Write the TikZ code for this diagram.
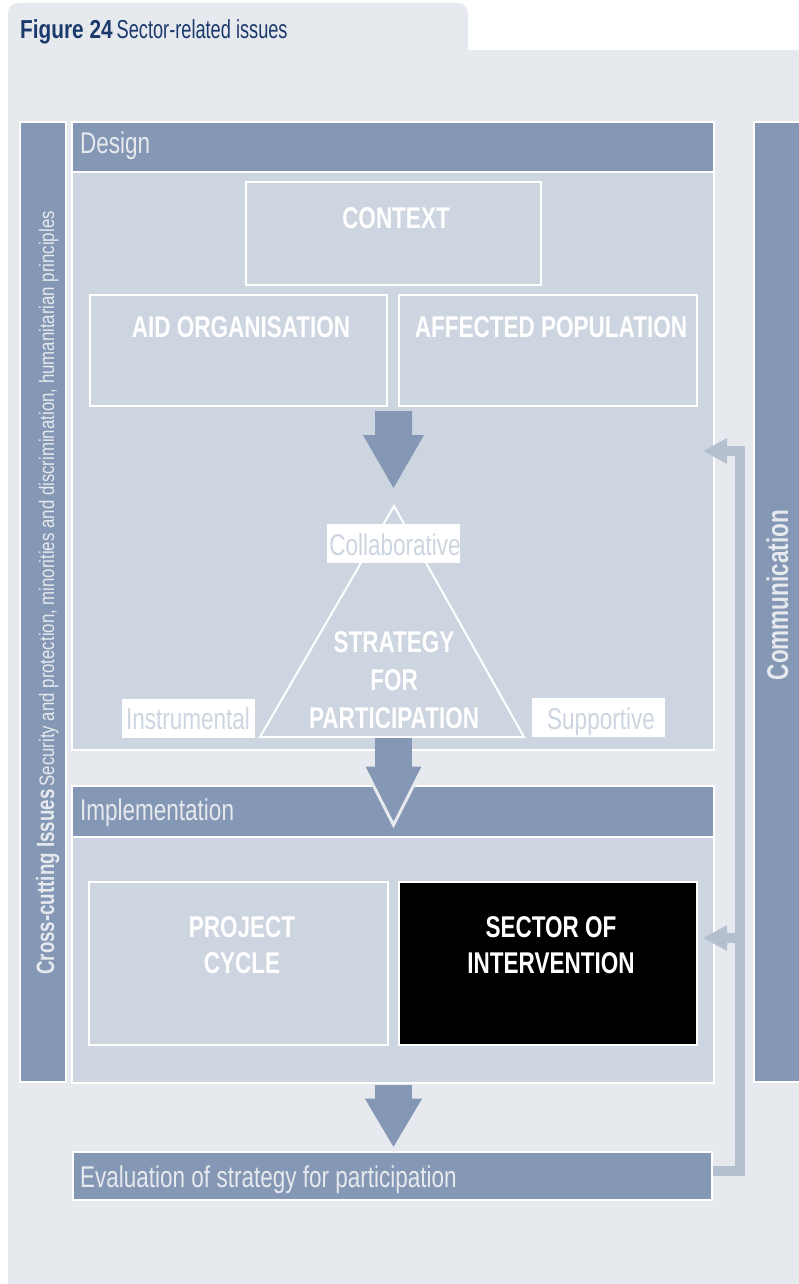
\documentclass[tikz,border=0pt]{standalone}
\usepackage{fontspec}
\setmainfont{Liberation Sans}
\newfontfamily\cf[FakeStretch=0.75]{Liberation Sans}
\newfontfamily\tbf[FakeStretch=0.8]{Liberation Sans}
\newfontfamily\treg[FakeStretch=0.7]{Liberation Sans}
\newfontfamily\sidefont[FakeStretch=0.8]{Liberation Sans}
\usetikzlibrary{arrows.meta}
\definecolor{bg}{HTML}{E6E9EE}
\definecolor{bar}{HTML}{8497B4}
\definecolor{panel}{HTML}{CDD5E0}
\definecolor{fb}{HTML}{B4C0D0}
\definecolor{navy}{HTML}{1A3A6C}
\tikzset{
  lbl/.style={inner sep=0pt, font=\cf\fontsize{30}{32}\selectfont},
  boxlbl/.style={inner sep=0pt, anchor=base, text=white, font=\cf\bfseries\fontsize{30}{32}\selectfont},
  hdr/.style={lbl, text=bg, anchor=base west},
  tag/.style={fill=white, inner sep=0pt, minimum width=133pt, minimum height=39pt},
  taglbl/.style={lbl, anchor=base, text=panel},
  frame/.style={draw=white, line width=2.5pt, inner sep=0pt},
  panelbox/.style={fill=panel, draw=white, line width=1.5pt, inner sep=0pt},
  barbox/.style={fill=bar, draw=white, line width=1.5pt, inner sep=0pt},
  fbline/.style={draw=fb, line width=10pt},
  fbtip/.style={-{Triangle[length=24pt,width=24pt]}},
  blockarrow/.style={fill=bar},
}
\begin{document}
\begin{tikzpicture}[x=1pt,y=-1pt]
\useasboundingbox (0,0) rectangle (799,1284);
\fill[white] (0,0) rectangle (799,1284);
% background
\fill[bg, rounded corners=10pt] (8,3) rectangle (468,70);
\fill[bg] (8,50) rectangle (799,1284);
% title
\node[anchor=base west, inner sep=0pt, text=navy] (title) at (20,39)
  {{\tbf\bfseries\fontsize{26}{28}\selectfont Figure 24}\hspace{4pt}{\treg\fontsize{26}{28}\selectfont Sector-related issues}};
% side bars
\node[barbox, minimum width=46pt, minimum height=960pt] (cross) at (43,602) {};
\node[barbox, minimum width=48pt, minimum height=960pt] (comm) at (778,602) {};
\node[rotate=90, anchor=base west, inner sep=0pt, text=bg] (crosstxt) at (54,975)
  {{\cf\bfseries\fontsize{25}{27}\selectfont Cross-cutting Issues}\hspace{3pt}{\sidefont\fontsize{21}{22}\selectfont Security and protection, minorities and discrimination, humanitarian principles}};
\node[rotate=90, anchor=base, inner sep=0pt, text=bg, font=\cf\bfseries\fontsize{30}{32}\selectfont] (commtxt) at (788,595) {Communication};
% design panel
\node[panelbox, minimum width=642pt, minimum height=628pt] (design) at (393,436) {};
\node[barbox, minimum width=642pt, minimum height=50pt] (designhdr) at (393,147) {};
\node[hdr] (designtxt) at (80,154) {Design};
\node[frame, minimum width=295pt, minimum height=103pt] (context) at (393.5,233.5) {};
\node[frame, minimum width=297pt, minimum height=111pt] (aid) at (238.5,350.5) {};
\node[frame, minimum width=298pt, minimum height=111pt] (affected) at (548,350.5) {};
\node[boxlbl] (contexttxt) at (396,228) {CONTEXT};
\node[boxlbl] (aidtxt) at (241,337) {AID ORGANISATION};
\node[boxlbl] (affectedtxt) at (551,337) {AFFECTED POPULATION};
% arrow 1
\fill[blockarrow] (375,411) -- (412,411) -- (412,435) -- (424,435) -- (393.5,488) -- (363,435) -- (375,435) -- cycle;
% triangle
\coordinate (tA) at (394,506);
\coordinate (tB) at (260,737);
\coordinate (tC) at (524,737);
\draw[white, line width=2pt, line join=miter] (tA) -- (tB) -- (tC) -- cycle;
\node[tag] (collab) at (393.5,543.5) {};
\node[tag] (instr) at (188,718) {};
\node[tag] (supp) at (598,717.5) {};
\node[taglbl] (collabtxt) at (395,555) {Collaborative};
\node[taglbl] (instrtxt) at (188,729) {Instrumental};
\node[taglbl] (supptxt) at (601,729) {Supportive};
\node[boxlbl] (strat1) at (394,652) {STRATEGY};
\node[boxlbl] (strat2) at (394,690) {FOR};
\node[boxlbl] (strat3) at (394,728) {PARTICIPATION};
% implementation panel
\node[panelbox, minimum width=642pt, minimum height=297pt] (impl) at (393,934.5) {};
\node[barbox, minimum width=642pt, minimum height=51pt] (implhdr) at (393,811.5) {};
\node[hdr] (impltxt) at (80,820) {Implementation};
\node[frame, minimum width=299pt, minimum height=163pt] (project) at (238.5,963.5) {};
\node[frame, fill=black, minimum width=298pt, minimum height=163pt] (sector) at (548,963.5) {};
\node[boxlbl] (proj1) at (242,937) {PROJECT};
\node[boxlbl] (proj2) at (242,973) {CYCLE};
\node[boxlbl] (sect1) at (551,937) {SECTOR OF};
\node[boxlbl] (sect2) at (551,973) {INTERVENTION};
% arrow 2
\filldraw[blockarrow, draw=bg, line width=3pt, line join=miter] (363,765) -- (424,765) -- (393.5,825) -- cycle;
\fill[blockarrow] (375,738) rectangle (412,767);
% evaluation bar
\node[barbox, minimum width=639pt, minimum height=48pt] (eval) at (392.5,1176) {};
\node[hdr] (evaltxt) at (80,1187) {Evaluation of strategy for participation};
% arrow 3
\filldraw[blockarrow, draw=bg, line width=3pt, line join=miter] (362,1097) -- (425,1097) -- (393.5,1150) -- cycle;
\fill[blockarrow] (375,1085) rectangle (412,1099);
% feedback connector
\coordinate (fbcorner) at (740,451);
\coordinate (fbtop) at (703,451);
\coordinate (fbjoin) at (740,938);
\coordinate (fbmid) at (703,938);
\draw[fbline, line join=miter] ([yshift=5pt]eval.east) -| (fbcorner);
\draw[fbline, fbtip] ([xshift=5pt]fbcorner) -- (fbtop);
\draw[fbline, fbtip] (fbjoin) -- (fbmid);
\end{tikzpicture}
\end{document}
